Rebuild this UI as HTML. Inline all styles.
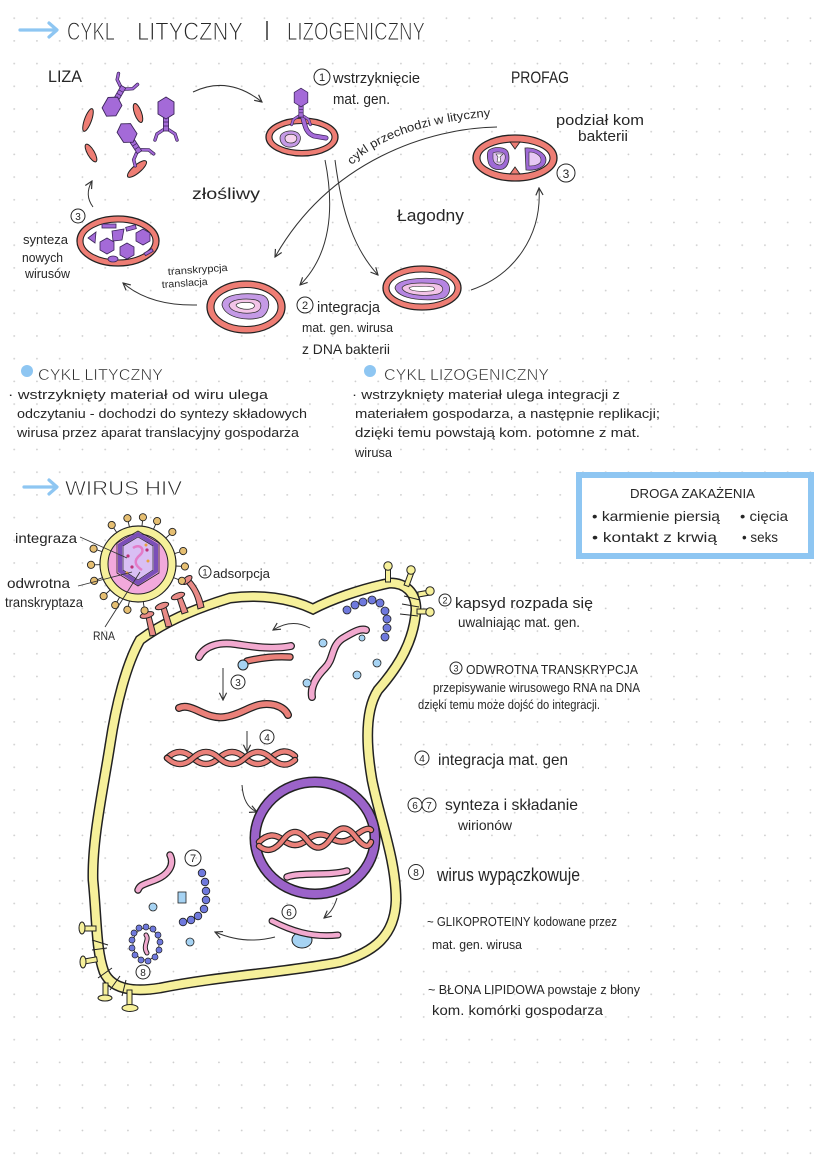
<!DOCTYPE html>
<html><head><meta charset="utf-8"><style>
html,body{margin:0;padding:0;background:#fff;}
svg{display:block;}
text{fill:#262626;font-family:"Liberation Sans","DejaVu Sans",sans-serif;}
.thin{stroke:#fff;stroke-width:0.9;}
</style></head><body>
<svg width="828" height="1169" viewBox="0 0 828 1169" xmlns="http://www.w3.org/2000/svg" xmlns:xlink="http://www.w3.org/1999/xlink">
<defs>
<pattern id="dots" x="13.3" y="17.3" width="22.75" height="22.7" patternUnits="userSpaceOnUse"><circle cx="0.9" cy="0.9" r="0.9" fill="#cdcdcd"/></pattern>
<marker id="ah" viewBox="0 0 10 10" refX="9" refY="5" markerWidth="9" markerHeight="9" markerUnits="userSpaceOnUse" orient="auto"><path d="M1 1 L9 5 L1 9" fill="none" stroke="#333" stroke-width="1.3"/></marker>
<g id="phage">
<path d="M-3 12 L-9 16 L-11 22 M3 12 L9 16 L11 22" fill="none" stroke="#3a2458" stroke-width="3.4" stroke-linecap="round"/>
<path d="M-3 12 L-9 16 L-11 22 M3 12 L9 16 L11 22" fill="none" stroke="#a46ad8" stroke-width="2" stroke-linecap="round"/>
<rect x="-2.6" y="0" width="5.2" height="13" fill="#a46ad8" stroke="#3a2458" stroke-width="0.8"/>
<path d="M-2.6 4 H2.6 M-2.6 8 H2.6" stroke="#3a2458" stroke-width="0.7"/>
<polygon points="0,-21 8,-16 8,-4 0,1 -8,-4 -8,-16" fill="#a46ad8" stroke="#3a2458" stroke-width="0.9"/>
</g>
</defs>
<rect width="828" height="1169" fill="#fff"/>
<rect width="828" height="1169" fill="url(#dots)"/>

<!-- TITLE -->
<path d="M20 30 H56 M49 23 L57 30 L49 37" fill="none" stroke="#8ec6f2" stroke-width="3.2" stroke-linecap="round" stroke-linejoin="round"/>
<text class="thin" x="67" y="40" font-size="25" textLength="48" lengthAdjust="spacingAndGlyphs">CYKL</text>
<text class="thin" x="137" y="40" font-size="25" textLength="106" lengthAdjust="spacingAndGlyphs">LITYCZNY</text>
<line x1="267" y1="21" x2="267" y2="40" stroke="#262626" stroke-width="1.4"/>
<text class="thin" x="287" y="40" font-size="25" textLength="138" lengthAdjust="spacingAndGlyphs">LIZOGENICZNY</text>

<!-- LYTIC / LYSOGENIC DIAGRAM -->
<text x="48" y="82" font-size="17" textLength="34" lengthAdjust="spacingAndGlyphs">LIZA</text>
<g fill="#ee7d74" stroke="#222" stroke-width="1">
<ellipse cx="88" cy="120" rx="3.5" ry="12" transform="rotate(20 88 120)"/>
<ellipse cx="138" cy="113" rx="3.5" ry="10" transform="rotate(-20 138 113)"/>
<ellipse cx="91" cy="153" rx="3.5" ry="10" transform="rotate(-30 91 153)"/>
<ellipse cx="137" cy="169" rx="4" ry="12" transform="rotate(50 137 169)"/>
</g>
<use xlink:href="#phage" transform="translate(117,98) rotate(210)"/>
<use xlink:href="#phage" transform="translate(166,118)"/>
<use xlink:href="#phage" transform="translate(132.5,141.4) rotate(-33)"/>
<path d="M193 92 Q228 75 262 102" fill="none" stroke="#333" stroke-width="1" marker-end="url(#ah)"/>

<!-- cell 1 -->
<ellipse cx="302" cy="137" rx="36" ry="19" fill="#ee7d74" stroke="#222" stroke-width="1.3"/>
<ellipse cx="302" cy="137" rx="30" ry="13.5" fill="#fff" stroke="#222" stroke-width="1.1"/>
<path d="M280 138 C280 131,292 129,298 133 C303 137,300 146,292 147 C284 148,280 143,280 138Z" fill="#c59ae6" stroke="#333" stroke-width="0.8"/>
<path d="M285 138 C285 134,293 133,296 136 C298 139,296 143,291 143 C287 143,285 141,285 138Z" fill="#f6d3ee" stroke="#333" stroke-width="0.7"/>
<path d="M303 118 C305 126,306 133,314 136 L326 138" fill="none" stroke="#3a2458" stroke-width="5" stroke-linecap="round"/>
<path d="M303 118 C305 126,306 133,314 136 L326 138" fill="none" stroke="#a46ad8" stroke-width="3.5" stroke-linecap="round"/>
<use xlink:href="#phage" transform="translate(301,106) scale(0.85)"/>
<circle cx="322" cy="77" r="8" fill="none" stroke="#262626" stroke-width="1"/>
<text x="322" y="81" font-size="11" text-anchor="middle">1</text>
<text x="333" y="83" font-size="15" textLength="87" lengthAdjust="spacingAndGlyphs">wstrzyknięcie</text>
<text x="333" y="104" font-size="15" textLength="57" lengthAdjust="spacingAndGlyphs">mat. gen.</text>

<text x="511" y="83" font-size="17" textLength="58" lengthAdjust="spacingAndGlyphs">PROFAG</text>
<text x="556" y="125" font-size="15" textLength="88" lengthAdjust="spacingAndGlyphs">podział kom</text>
<text x="578" y="141" font-size="15" textLength="50" lengthAdjust="spacingAndGlyphs">bakterii</text>

<path id="tp" d="M352 165 C372 143,420 121,499 116" fill="none"/>
<text font-size="12"><textPath xlink:href="#tp" textLength="150" lengthAdjust="spacingAndGlyphs">cykl przechodzi w lityczny</textPath></text>
<path d="M497 127 C430 128,330 160,275 257" fill="none" stroke="#333" stroke-width="1" marker-end="url(#ah)"/>
<path d="M325 160 C335 210,330 255,300 285" fill="none" stroke="#333" stroke-width="1" marker-end="url(#ah)"/>
<path d="M335 160 C342 215,355 250,378 275" fill="none" stroke="#333" stroke-width="1" marker-end="url(#ah)"/>

<text x="192" y="199" font-size="16" textLength="68" lengthAdjust="spacingAndGlyphs">złośliwy</text>
<text x="397" y="221" font-size="17" textLength="67" lengthAdjust="spacingAndGlyphs">Łagodny</text>

<!-- profag cell -->
<ellipse cx="515" cy="158" rx="42" ry="23" fill="#ee7d74" stroke="#222" stroke-width="1.3"/>
<ellipse cx="515" cy="158" rx="35" ry="16" fill="#fff" stroke="#222" stroke-width="1.1"/>
<path d="M510 142 L515 149 L520 142Z M510 174 L515 167 L520 174Z" fill="#ee7d74" stroke="#222" stroke-width="0.9"/>
<path d="M489 150 C495 146,506 147,508 152 C510 158,509 166,503 169 C496 171,489 168,488 161 C487 156,487 152,489 150Z" fill="#9f6ad6" stroke="#333" stroke-width="0.8"/>
<path d="M493 153 C497 151,504 152,505 155 C506 159,504 164,500 165 C496 165,493 162,493 158Z" fill="#e0c0f2" stroke="#333" stroke-width="0.6"/>
<path d="M496 154 H503 L500 157 L501 162 H497 L498 157Z" fill="#fff" stroke="#333" stroke-width="0.6"/>
<path d="M525 148 C535 147,546 153,546 160 C546 167,537 171,526 170 Z" fill="#9f6ad6" stroke="#333" stroke-width="0.8"/>
<path d="M529 152 C536 152,541 156,541 160 C541 164,536 166,529 166Z" fill="#e6c8f4" stroke="#333" stroke-width="0.6"/>
<circle cx="566" cy="173" r="9" fill="none" stroke="#262626" stroke-width="1"/>
<text x="566" y="178" font-size="12" text-anchor="middle">3</text>

<!-- lysogenic cell -->
<ellipse cx="422" cy="288" rx="39" ry="22" fill="#ee7d74" stroke="#222" stroke-width="1.3"/>
<ellipse cx="422" cy="288" rx="33" ry="16" fill="#fff" stroke="#222" stroke-width="1.1"/>
<path d="M395 288 C396 279,420 277,440 279 C452 281,452 294,444 298 C430 302,398 300,395 288Z" fill="#b685e2" stroke="#333" stroke-width="0.8"/>
<path d="M402 288 C404 283,420 282,437 284 C445 286,444 292,438 294 C425 297,404 295,402 288Z" fill="#f3c4e8" stroke="#333" stroke-width="0.7"/>
<path d="M409 288 C411 286,422 286,433 287 C436 289,434 291,430 291 C420 292,410 291,409 288Z" fill="#fff" stroke="#333" stroke-width="0.6"/>
<path d="M471 290 C515 275,542 235,539 188" fill="none" stroke="#333" stroke-width="1" marker-end="url(#ah)"/>

<!-- cell 2 -->
<ellipse cx="246" cy="307" rx="39" ry="26" fill="#ee7d74" stroke="#222" stroke-width="1.3"/>
<ellipse cx="246" cy="307" rx="32" ry="19.5" fill="#fff" stroke="#222" stroke-width="1.1"/>
<path d="M222 305 C222 294,245 292,262 295 C272 298,270 312,262 317 C248 322,225 318,222 305Z" fill="#c59ae6" stroke="#333" stroke-width="0.8"/>
<path d="M229 305 C231 299,246 298,256 300 C263 302,262 310,256 312 C245 315,230 312,229 305Z" fill="#f3c4e8" stroke="#333" stroke-width="0.8"/>
<path d="M236 305 C238 302,247 302,252 303 C256 305,255 308,250 309 C244 310,237 308,236 305Z" fill="#fff" stroke="#333" stroke-width="0.7"/>
<circle cx="305" cy="305" r="8" fill="none" stroke="#262626" stroke-width="1"/>
<text x="305" y="309" font-size="11" text-anchor="middle">2</text>
<text x="317" y="312" font-size="15" textLength="63" lengthAdjust="spacingAndGlyphs">integracja</text>
<text x="302" y="332" font-size="13" textLength="91" lengthAdjust="spacingAndGlyphs">mat. gen. wirusa</text>
<text x="302" y="354" font-size="14" textLength="88" lengthAdjust="spacingAndGlyphs">z DNA bakterii</text>
<text x="168" y="275" font-size="10" textLength="60" lengthAdjust="spacingAndGlyphs" transform="rotate(-4 168 275)">transkrypcja</text>
<text x="162" y="288" font-size="10" textLength="46" lengthAdjust="spacingAndGlyphs" transform="rotate(-4 162 288)">translacja</text>
<path d="M197 305 Q150 306 123 283" fill="none" stroke="#333" stroke-width="1" marker-end="url(#ah)"/>

<!-- cell 3 lytic -->
<ellipse cx="118" cy="241" rx="41" ry="25" fill="#ee7d74" stroke="#222" stroke-width="1.3"/>
<ellipse cx="118" cy="241" rx="35" ry="19" fill="#fff" stroke="#222" stroke-width="1.1"/>
<g fill="#a46ad8" stroke="#3a2458" stroke-width="0.8">
<polygon points="107,238 114,242 114,250 107,254 100,250 100,242"/>
<polygon points="127,243 134,247 134,255 127,259 120,255 120,247"/>
<polygon points="143,229 150,233 150,241 143,245 136,241 136,233"/>
<polygon points="112,231 124,229 122,240 113,241"/>
<rect x="102" y="224" width="14" height="4"/>
<rect x="126" y="226" width="10" height="4" transform="rotate(-15 131 228)"/>
<ellipse cx="113" cy="259" rx="5" ry="3"/>
<rect x="144" y="251" width="9" height="3" transform="rotate(-30 148 252)"/>
<polygon points="88,238 96,232 95,243"/>
</g>
<circle cx="78" cy="216" r="7" fill="none" stroke="#262626" stroke-width="1"/>
<text x="78" y="220" font-size="10" text-anchor="middle">3</text>
<text x="23" y="244" font-size="13" textLength="45" lengthAdjust="spacingAndGlyphs">synteza</text>
<text x="22" y="262" font-size="13" textLength="41" lengthAdjust="spacingAndGlyphs">nowych</text>
<text x="25" y="278" font-size="13" textLength="45" lengthAdjust="spacingAndGlyphs">wirusów</text>
<path d="M93 207 Q84 195 92 181" fill="none" stroke="#333" stroke-width="1" marker-end="url(#ah)"/>

<!-- SECTION TEXT -->
<circle cx="27" cy="371" r="6" fill="#8ec6f2"/>
<text class="thin" x="38" y="380" font-size="16" textLength="125" lengthAdjust="spacingAndGlyphs" style="stroke-width:0.5">CYKL LITYCZNY</text>
<text x="8" y="399" font-size="13" textLength="260" lengthAdjust="spacingAndGlyphs">· wstrzyknięty materiał od wiru ulega</text>
<text x="17" y="418" font-size="13" textLength="290" lengthAdjust="spacingAndGlyphs">odczytaniu - dochodzi do syntezy składowych</text>
<text x="17" y="437" font-size="13" textLength="282" lengthAdjust="spacingAndGlyphs">wirusa przez aparat translacyjny gospodarza</text>

<circle cx="370" cy="371" r="6" fill="#8ec6f2"/>
<text class="thin" x="384" y="380" font-size="16" textLength="165" lengthAdjust="spacingAndGlyphs" style="stroke-width:0.5">CYKL LIZOGENICZNY</text>
<text x="352" y="399" font-size="13" textLength="268" lengthAdjust="spacingAndGlyphs">· wstrzyknięty materiał ulega integracji z</text>
<text x="355" y="418" font-size="13" textLength="305" lengthAdjust="spacingAndGlyphs">materiałem gospodarza, a następnie replikacji;</text>
<text x="355" y="437" font-size="13" textLength="285" lengthAdjust="spacingAndGlyphs">dzięki temu powstają kom. potomne z mat.</text>
<text x="355" y="457" font-size="13" textLength="37" lengthAdjust="spacingAndGlyphs">wirusa</text>

<path d="M24 487 H56 M49 480 L57 487 L49 494" fill="none" stroke="#8ec6f2" stroke-width="3.2" stroke-linecap="round" stroke-linejoin="round"/>
<text class="thin" x="65" y="495" font-size="20" textLength="117" lengthAdjust="spacingAndGlyphs" style="stroke-width:0.7">WIRUS HIV</text>

<rect x="579" y="475" width="232" height="81" fill="#fff" stroke="#8ec6f2" stroke-width="6"/>
<text x="630" y="498" font-size="13" textLength="125" lengthAdjust="spacingAndGlyphs">DROGA ZAKAŻENIA</text>
<text x="592" y="521" font-size="14" textLength="128" lengthAdjust="spacingAndGlyphs">• karmienie piersią</text>
<text x="740" y="521" font-size="14" textLength="48" lengthAdjust="spacingAndGlyphs">• cięcia</text>
<text x="592" y="542" font-size="14" textLength="125" lengthAdjust="spacingAndGlyphs">• kontakt z krwią</text>
<text x="742" y="542" font-size="14" textLength="36" lengthAdjust="spacingAndGlyphs">• seks</text>

<!-- HIV CELL MEMBRANE -->
<path d="M140 640 C160 625,190 610,230 598 C260 594,290 598,313 609 C330 600,360 589,390 583 C405 583,416 592,416 610 C414 640,400 665,378 690 C365 710,366 745,372 780 C380 820,396 860,396 900 C395 935,375 952,340 962 C290 972,220 976,160 988 C135 992,112 990,104 972 C96 950,97 920,93 880 C92 840,103 790,110 745 C116 705,126 665,140 640Z" fill="none" stroke="#222" stroke-width="11"/>
<path d="M140 640 C160 625,190 610,230 598 C260 594,290 598,313 609 C330 600,360 589,390 583 C405 583,416 592,416 610 C414 640,400 665,378 690 C365 710,366 745,372 780 C380 820,396 860,396 900 C395 935,375 952,340 962 C290 972,220 976,160 988 C135 992,112 990,104 972 C96 950,97 920,93 880 C92 840,103 790,110 745 C116 705,126 665,140 640Z" fill="none" stroke="#f6f09a" stroke-width="8"/>

<!-- top-right glycoproteins -->
<g stroke="#222" stroke-width="1">
<g fill="#f6f09a">
<rect x="385.5" y="568" width="5" height="14"/><circle cx="388" cy="566" r="4.2"/>
<rect x="406" y="572" width="5" height="14" transform="rotate(20 408 580)"/><circle cx="411" cy="570" r="4.2"/>
<rect x="418" y="591" width="12" height="5" transform="rotate(-10 424 593)"/><circle cx="430" cy="591" r="4.2"/>
<rect x="417" y="609" width="11" height="5"/><circle cx="430" cy="612" r="4.2"/>
</g>
<path d="M404 596 L420 600 M402 604 L419 607 M400 614 L418 616" fill="none"/>
</g>
<!-- bottom-left glycoproteins -->
<g stroke="#222" stroke-width="1">
<g fill="#f6f09a">
<rect x="82" y="926" width="14" height="5"/><ellipse cx="82" cy="928" rx="3" ry="6"/>
<rect x="82" y="958" width="15" height="5" transform="rotate(-10 90 960)"/><ellipse cx="83" cy="962" rx="3" ry="6"/>
<rect x="103" y="983" width="5" height="13"/><ellipse cx="105" cy="998" rx="7" ry="3"/>
<rect x="127" y="990" width="5" height="15"/><ellipse cx="130" cy="1008" rx="8" ry="3.5"/>
</g>
<path d="M92 940 L108 945 M92 950 L107 948 M98 978 L112 968 M110 990 L120 976 M122 996 L126 980" fill="none"/>
</g>

<!-- receptors -->
<g fill="#e98a86" stroke="#222" stroke-width="1">
<path d="M150 636 L146 617 L151 616 L156 635Z"/><ellipse cx="147" cy="615" rx="7" ry="3" transform="rotate(-15 147 615)"/>
<path d="M166 627 L161 608 L166 607 L172 626Z"/><ellipse cx="162" cy="606" rx="7" ry="3" transform="rotate(-20 162 606)"/>
<path d="M182 614 L177 598 L182 597 L188 612Z"/><ellipse cx="178" cy="596" rx="7" ry="3" transform="rotate(-20 178 596)"/>
<path d="M198 609 C196 598,193 590,186 583 L190 579 C197 586,202 597,204 607Z"/><ellipse cx="187" cy="580" rx="6" ry="3" transform="rotate(-40 187 580)"/>
</g>

<!-- virus -->
<g>
<g stroke="#222" stroke-width="0.9" fill="#e6bf72">
<g transform="rotate(-124 138 564)"><line x1="176" y1="564" x2="182" y2="564"/><circle cx="185" cy="564" r="3.6"/></g>
<g transform="rotate(-103 138 564)"><line x1="176" y1="564" x2="182" y2="564"/><circle cx="185" cy="564" r="3.6"/></g>
<g transform="rotate(-84 138 564)"><line x1="176" y1="564" x2="182" y2="564"/><circle cx="185" cy="564" r="3.6"/></g>
<g transform="rotate(-66 138 564)"><line x1="176" y1="564" x2="182" y2="564"/><circle cx="185" cy="564" r="3.6"/></g>
<g transform="rotate(-43 138 564)"><line x1="176" y1="564" x2="182" y2="564"/><circle cx="185" cy="564" r="3.6"/></g>
<g transform="rotate(-16 138 564)"><line x1="176" y1="564" x2="182" y2="564"/><circle cx="185" cy="564" r="3.6"/></g>
<g transform="rotate(3 138 564)"><line x1="176" y1="564" x2="182" y2="564"/><circle cx="185" cy="564" r="3.6"/></g>
<g transform="rotate(21 138 564)"><line x1="176" y1="564" x2="182" y2="564"/><circle cx="185" cy="564" r="3.6"/></g>
<g transform="rotate(-161 138 564)"><line x1="176" y1="564" x2="182" y2="564"/><circle cx="185" cy="564" r="3.6"/></g>
<g transform="rotate(179 138 564)"><line x1="176" y1="564" x2="182" y2="564"/><circle cx="185" cy="564" r="3.6"/></g>
<g transform="rotate(159 138 564)"><line x1="176" y1="564" x2="182" y2="564"/><circle cx="185" cy="564" r="3.6"/></g>
<g transform="rotate(137 138 564)"><line x1="176" y1="564" x2="182" y2="564"/><circle cx="185" cy="564" r="3.6"/></g>
<g transform="rotate(119 138 564)"><line x1="176" y1="564" x2="182" y2="564"/><circle cx="185" cy="564" r="3.6"/></g>
<g transform="rotate(103 138 564)"><line x1="176" y1="564" x2="182" y2="564"/><circle cx="185" cy="564" r="3.6"/></g>
<g transform="rotate(82 138 564)"><line x1="176" y1="564" x2="182" y2="564"/><circle cx="185" cy="564" r="3.6"/></g>
</g>
<circle cx="138" cy="564" r="38" fill="#f6f09a" stroke="#222" stroke-width="1.2"/>
<circle cx="138" cy="564" r="30" fill="#f2a9dc" stroke="#222" stroke-width="1"/>
<polygon points="138,534 156,545 156,571 138,583 120,571 120,545" fill="#c6a3ee" stroke="#7b4fb8" stroke-width="4"/>
<polygon points="138,531 159,543 159,573 138,586 117,573 117,543" fill="none" stroke="#222" stroke-width="0.8"/>
<polygon points="138,537 153,546 153,570 138,580 123,570 123,546" fill="#d9bff4" stroke="#222" stroke-width="0.7"/>
<path d="M133 548 C140 543,146 550,140 555 S134 565,142 570" fill="none" stroke="#e37cc8" stroke-width="2.5"/>
<g fill="#c0337a"><circle cx="128" cy="556" r="1.6"/><circle cx="147" cy="550" r="1.6"/><circle cx="132" cy="567" r="1.6"/></g>
<g fill="#e8a040"><circle cx="146" cy="545" r="1.5"/><circle cx="148" cy="561" r="1.5"/><circle cx="127" cy="573" r="1.5"/></g>
</g>
<g stroke="#333" stroke-width="0.9" fill="none">
<path d="M80 537 L127 558"/><path d="M78 586 L132 572"/><path d="M105 627 L140 572"/>
</g>
<text x="15" y="543" font-size="14" textLength="62" lengthAdjust="spacingAndGlyphs">integraza</text>
<text x="7" y="588" font-size="14" textLength="63" lengthAdjust="spacingAndGlyphs">odwrotna</text>
<text x="5" y="607" font-size="14" textLength="78" lengthAdjust="spacingAndGlyphs">transkryptaza</text>
<text x="93" y="640" font-size="12" textLength="22" lengthAdjust="spacingAndGlyphs">RNA</text>
<circle cx="205" cy="572" r="6" fill="none" stroke="#262626" stroke-width="1"/>
<text x="205" y="575.5" font-size="9" text-anchor="middle">1</text>
<text x="213" y="578" font-size="13" textLength="57" lengthAdjust="spacingAndGlyphs">adsorpcja</text>

<!-- INSIDE CELL -->
<g fill="none" stroke-linecap="round">
<path d="M312 697 C310 685,318 675,325 668 C335 658,330 645,345 637 C352 633,360 628,366 630" stroke="#222" stroke-width="8"/>
<path d="M312 697 C310 685,318 675,325 668 C335 658,330 645,345 637 C352 633,360 628,366 630" stroke="#f2a9cf" stroke-width="5.5"/>
<path d="M199 657 C205 645,220 642,235 644 S270 650,291 646" stroke="#222" stroke-width="8"/>
<path d="M199 657 C205 645,220 642,235 644 S270 650,291 646" stroke="#f2a9cf" stroke-width="5.5"/>
<path d="M247 661 C260 658,275 656,290 657" stroke="#222" stroke-width="7.5"/>
<path d="M247 661 C260 658,275 656,290 657" stroke="#ea8079" stroke-width="5"/>
<path d="M179 708 C192 702,205 720,225 717 C245 714,255 700,275 705 Q285 708,288 715" stroke="#222" stroke-width="8"/>
<path d="M179 708 C192 702,205 720,225 717 C245 714,255 700,275 705 Q285 708,288 715" stroke="#ea8079" stroke-width="5.5"/>
<path d="M167 758 Q180 746 193 758 T219 758 T245 758 T271 758 T295 756" stroke="#222" stroke-width="6.5"/>
<path d="M167 758 Q180 746 193 758 T219 758 T245 758 T271 758 T295 756" stroke="#ea8079" stroke-width="4.2"/>
<path d="M167 758 Q180 770 193 758 T219 758 T245 758 T271 758 T295 760" stroke="#222" stroke-width="6.5"/>
<path d="M167 758 Q180 770 193 758 T219 758 T245 758 T271 758 T295 760" stroke="#ea8079" stroke-width="4.2"/>
</g>
<circle cx="243" cy="665" r="5" fill="#a6d3f3" stroke="#222" stroke-width="1"/>
<g fill="none" stroke="#333" stroke-width="1">
<path d="M310 628 Q292 618 273 630" marker-end="url(#ah)"/>
<path d="M223 668 L223 700" marker-end="url(#ah)"/>
<path d="M247 731 L247 752" marker-end="url(#ah)"/>
<path d="M242 785 C243 800,248 808,257 812" marker-end="url(#ah)"/>
<path d="M337 898 C334 908,330 913,324 918" marker-end="url(#ah)"/>
<path d="M275 937 Q245 945 215 932" marker-end="url(#ah)"/>
</g>
<g fill="#6f79dd" stroke="#222" stroke-width="0.8">
<circle cx="347" cy="610" r="4"/><circle cx="355" cy="605" r="4"/><circle cx="363" cy="602" r="4"/><circle cx="372" cy="600" r="4"/><circle cx="380" cy="603" r="4"/><circle cx="385" cy="611" r="4"/><circle cx="387" cy="619" r="4"/><circle cx="387" cy="628" r="4"/><circle cx="385" cy="637" r="4"/>
</g>
<g fill="#a6d3f3" stroke="#222" stroke-width="0.8">
<circle cx="323" cy="643" r="4"/><circle cx="307" cy="683" r="4"/><circle cx="357" cy="675" r="4"/><circle cx="377" cy="663" r="4"/><circle cx="362" cy="638" r="3"/>
</g>
<circle cx="238" cy="682" r="7" fill="none" stroke="#262626" stroke-width="1"/>
<text x="238" y="686" font-size="10" text-anchor="middle">3</text>
<circle cx="267" cy="737" r="7" fill="none" stroke="#262626" stroke-width="1"/>
<text x="267" y="741" font-size="10" text-anchor="middle">4</text>

<!-- nucleus -->
<ellipse cx="315" cy="838" rx="60" ry="56" fill="#fff" stroke="#222" stroke-width="11"/>
<ellipse cx="315" cy="838" rx="60" ry="56" fill="none" stroke="#9b63c9" stroke-width="8"/>
<g fill="none" stroke-linecap="round">
<path d="M259 842 Q271 830 283 840 T307 840 T331 838 T355 836 T371 830" stroke="#222" stroke-width="6.5"/>
<path d="M259 842 Q271 830 283 840 T307 840 T331 838 T355 836 T371 830" stroke="#ea8079" stroke-width="4.2"/>
<path d="M259 846 Q271 856 283 840 T307 840 T331 838 T355 836 T371 842" stroke="#222" stroke-width="6.5"/>
<path d="M259 846 Q271 856 283 840 T307 840 T331 838 T355 836 T371 842" stroke="#ea8079" stroke-width="4.2"/>
<path d="M287 877 C300 872,330 876,347 871" stroke="#222" stroke-width="7.5"/>
<path d="M287 877 C300 872,330 876,347 871" stroke="#f2a9cf" stroke-width="5"/>
</g>

<ellipse cx="302" cy="940" rx="10" ry="8" fill="#a6d3f3" stroke="#222" stroke-width="1"/>
<g fill="none" stroke-linecap="round">
<path d="M272 921 C290 930,310 938,338 935" stroke="#222" stroke-width="7"/>
<path d="M272 921 C290 930,310 938,338 935" stroke="#f2a9cf" stroke-width="4.6"/>
<path d="M170 855 C175 865,168 875,155 880 S140 885,138 890" stroke="#222" stroke-width="7.5"/>
<path d="M170 855 C175 865,168 875,155 880 S140 885,138 890" stroke="#f2a9cf" stroke-width="5"/>
</g>
<circle cx="289" cy="912" r="7" fill="none" stroke="#262626" stroke-width="1"/>
<text x="289" y="916" font-size="10" text-anchor="middle">6</text>
<circle cx="193" cy="858" r="8" fill="none" stroke="#262626" stroke-width="1"/>
<text x="193" y="862" font-size="11" text-anchor="middle">7</text>
<g fill="#6f79dd" stroke="#222" stroke-width="0.8">
<circle cx="202" cy="873" r="3.8"/><circle cx="205" cy="882" r="3.8"/><circle cx="206" cy="891" r="3.8"/><circle cx="206" cy="900" r="3.8"/><circle cx="204" cy="909" r="3.8"/><circle cx="198" cy="916" r="3.8"/><circle cx="191" cy="920" r="3.8"/><circle cx="183" cy="922" r="3.8"/>
</g>
<rect x="178" y="892" width="8" height="11" fill="#a6d3f3" stroke="#222" stroke-width="0.8"/>
<circle cx="153" cy="907" r="4" fill="#a6d3f3" stroke="#222" stroke-width="0.8"/>
<circle cx="190" cy="942" r="4" fill="#a6d3f3" stroke="#222" stroke-width="0.8"/>
<ellipse cx="146" cy="944" rx="13" ry="16" fill="#fff" stroke="#222" stroke-width="0.8"/>
<g fill="#6f79dd" stroke="#222" stroke-width="0.7">
<circle cx="146" cy="927" r="3"/><circle cx="153" cy="929" r="3"/><circle cx="158" cy="935" r="3"/><circle cx="160" cy="942" r="3"/><circle cx="159" cy="950" r="3"/><circle cx="155" cy="957" r="3"/><circle cx="148" cy="961" r="3"/><circle cx="141" cy="960" r="3"/><circle cx="135" cy="955" r="3"/><circle cx="132" cy="948" r="3"/><circle cx="132" cy="940" r="3"/><circle cx="134" cy="933" r="3"/><circle cx="139" cy="928" r="3"/>
</g>
<path d="M146 935 C150 940,142 945,147 953" fill="none" stroke="#222" stroke-width="5" stroke-linecap="round"/>
<path d="M146 935 C150 940,142 945,147 953" fill="none" stroke="#f2a9cf" stroke-width="3" stroke-linecap="round"/>
<circle cx="143" cy="972" r="7" fill="#fff" stroke="#262626" stroke-width="1"/>
<text x="143" y="976" font-size="10" text-anchor="middle">8</text>

<!-- RIGHT COLUMN TEXT -->
<circle cx="445" cy="600" r="6" fill="none" stroke="#262626" stroke-width="1"/>
<text x="445" y="603.5" font-size="9" text-anchor="middle">2</text>
<text x="455" y="608" font-size="15" textLength="138" lengthAdjust="spacingAndGlyphs">kapsyd rozpada się</text>
<text x="458" y="627" font-size="14" textLength="122" lengthAdjust="spacingAndGlyphs">uwalniając mat. gen.</text>
<circle cx="456" cy="668" r="6" fill="none" stroke="#262626" stroke-width="1"/>
<text x="456" y="671.5" font-size="9" text-anchor="middle">3</text>
<text x="466" y="674" font-size="13" textLength="172" lengthAdjust="spacingAndGlyphs">ODWROTNA TRANSKRYPCJA</text>
<text x="433" y="692" font-size="13" textLength="207" lengthAdjust="spacingAndGlyphs">przepisywanie wirusowego RNA na DNA</text>
<text x="418" y="709" font-size="13" textLength="182" lengthAdjust="spacingAndGlyphs">dzięki temu może dojść do integracji.</text>
<circle cx="422" cy="758" r="7" fill="none" stroke="#262626" stroke-width="1"/>
<text x="422" y="762" font-size="10" text-anchor="middle">4</text>
<text x="438" y="765" font-size="16" textLength="130" lengthAdjust="spacingAndGlyphs">integracja mat. gen</text>
<circle cx="415" cy="805" r="7" fill="none" stroke="#262626" stroke-width="1"/>
<text x="415" y="809" font-size="10" text-anchor="middle">6</text>
<circle cx="429" cy="805" r="7" fill="none" stroke="#262626" stroke-width="1"/>
<text x="429" y="809" font-size="10" text-anchor="middle">7</text>
<text x="445" y="810" font-size="16" textLength="133" lengthAdjust="spacingAndGlyphs">synteza i składanie</text>
<text x="458" y="830" font-size="14" textLength="54" lengthAdjust="spacingAndGlyphs">wirionów</text>
<circle cx="416" cy="872" r="7.5" fill="none" stroke="#262626" stroke-width="1"/>
<text x="416" y="876" font-size="10" text-anchor="middle">8</text>
<text x="437" y="881" font-size="18" textLength="143" lengthAdjust="spacingAndGlyphs">wirus wypączkowuje</text>
<text x="427" y="926" font-size="13" textLength="190" lengthAdjust="spacingAndGlyphs">~ GLIKOPROTEINY kodowane przez</text>
<text x="432" y="949" font-size="13" textLength="90" lengthAdjust="spacingAndGlyphs">mat. gen. wirusa</text>
<text x="428" y="994" font-size="13" textLength="212" lengthAdjust="spacingAndGlyphs">~ BŁONA LIPIDOWA powstaje z błony</text>
<text x="432" y="1015" font-size="14" textLength="171" lengthAdjust="spacingAndGlyphs">kom. komórki gospodarza</text>
</svg>
</body></html>
